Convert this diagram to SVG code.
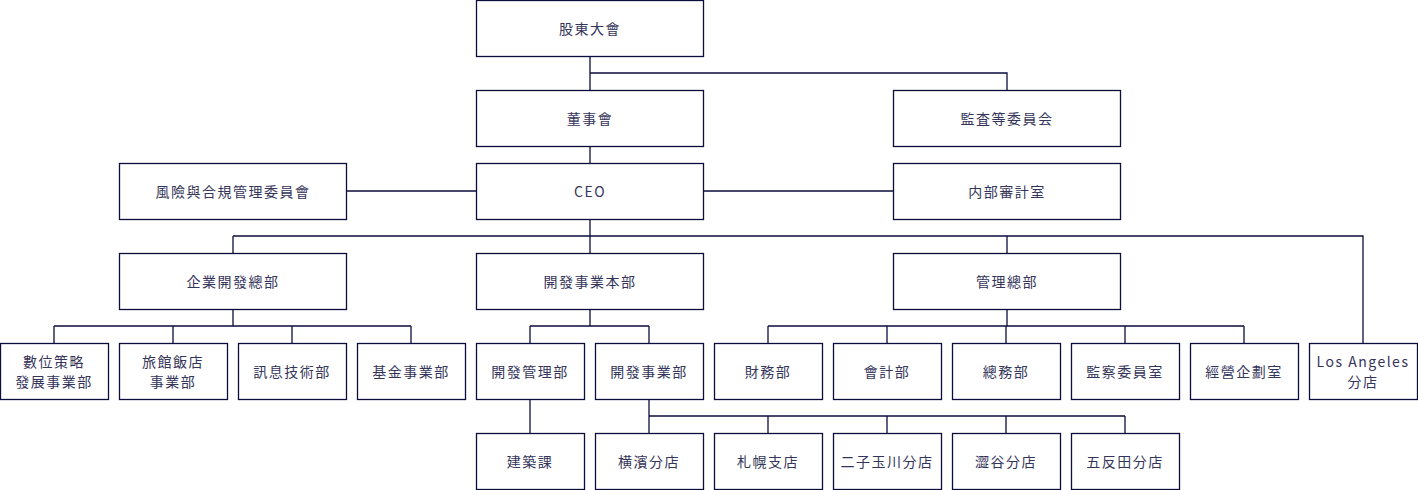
<svg xmlns="http://www.w3.org/2000/svg" width="1418" height="490" viewBox="0 0 1418 490">
<style>
rect{fill:#fff;stroke:#0d0d3d;stroke-width:1.3}
text{font-family:"Noto Sans CJK JP","Noto Sans CJK TC",sans-serif;font-size:14px;fill:#35355a;text-anchor:middle;dominant-baseline:central;letter-spacing:1.5px}
#connectors path{fill:none;stroke:#0d0d3d;stroke-width:1.3}
</style>
<rect x="0" y="0" width="1418" height="490" style="fill:#fff;stroke:none"/>
<g id="connectors">
<path d="M590 56V90M590 73H1007V90"/>
<path d="M590 146V163"/>
<path d="M346 191H476M703 191H893"/>
<path d="M590 219V253M233 236H1363V343M233 236V253M1007 236V253"/>
<path d="M233 309V326M54 326H411M54 326V343M173 326V343M292 326V343M411 326V343"/>
<path d="M590 309V326M530 326H649M530 326V343M649 326V343"/>
<path d="M1007 309V326M768 326H1244M768 326V343M887 326V343M1006 326V343M1125 326V343M1244 326V343"/>
<path d="M530 399V433"/>
<path d="M649 399V433M649 416H1125M768 416V433M887 416V433M1006 416V433M1125 416V433"/>
</g>
<g id="n-shareholders"><rect x="476.5" y="0.5" width="227" height="56"/><text x="590" y="28">股東大會</text></g>
<g id="n-board"><rect x="476.5" y="90.5" width="227" height="56"/><text x="590" y="118">董事會</text></g>
<g id="n-audit-committee"><rect x="893.5" y="90.5" width="227" height="56"/><text x="1007" y="118">監査等委員会</text></g>
<g id="n-risk"><rect x="119.5" y="163.5" width="227" height="56"/><text x="233" y="191">風險與合規管理委員會</text></g>
<g id="n-ceo"><rect x="476.5" y="163.5" width="227" height="56"/><text x="590" y="191">CEO</text></g>
<g id="n-internal-audit"><rect x="893.5" y="163.5" width="227" height="56"/><text x="1007" y="191">内部審計室</text></g>
<g id="n-corp-dev"><rect x="119.5" y="253.5" width="227" height="56"/><text x="233" y="281">企業開發總部</text></g>
<g id="n-dev-hq"><rect x="476.5" y="253.5" width="227" height="56"/><text x="590" y="281">開發事業本部</text></g>
<g id="n-admin"><rect x="893.5" y="253.5" width="227" height="56"/><text x="1007" y="281">管理總部</text></g>
<g id="n-digital"><rect x="0.5" y="343.5" width="108" height="56"/><text x="54" y="361">數位策略</text><text x="54" y="381">發展事業部</text></g>
<g id="n-hotel"><rect x="119.5" y="343.5" width="108" height="56"/><text x="173" y="361">旅館飯店</text><text x="173" y="381">事業部</text></g>
<g id="n-it"><rect x="238.5" y="343.5" width="108" height="56"/><text x="292" y="371">訊息技術部</text></g>
<g id="n-fund"><rect x="357.5" y="343.5" width="108" height="56"/><text x="411" y="371">基金事業部</text></g>
<g id="n-dev-mgmt"><rect x="476.5" y="343.5" width="108" height="56"/><text x="530" y="371">開發管理部</text></g>
<g id="n-dev-biz"><rect x="595.5" y="343.5" width="108" height="56"/><text x="649" y="371">開發事業部</text></g>
<g id="n-finance"><rect x="714.5" y="343.5" width="108" height="56"/><text x="768" y="371">財務部</text></g>
<g id="n-accounting"><rect x="833.5" y="343.5" width="108" height="56"/><text x="887" y="371">會計部</text></g>
<g id="n-general"><rect x="952.5" y="343.5" width="108" height="56"/><text x="1006" y="371">總務部</text></g>
<g id="n-inspection"><rect x="1071.5" y="343.5" width="108" height="56"/><text x="1125" y="371">監察委員室</text></g>
<g id="n-planning"><rect x="1190.5" y="343.5" width="108" height="56"/><text x="1244" y="371">經營企劃室</text></g>
<g id="n-la"><rect x="1309.5" y="343.5" width="108" height="56"/><text x="1363" y="361">Los Angeles</text><text x="1363" y="381">分店</text></g>
<g id="n-architecture"><rect x="476.5" y="433.5" width="108" height="56"/><text x="530" y="461">建築課</text></g>
<g id="n-yokohama"><rect x="595.5" y="433.5" width="108" height="56"/><text x="649" y="461">横濱分店</text></g>
<g id="n-sapporo"><rect x="714.5" y="433.5" width="108" height="56"/><text x="768" y="461">札幌支店</text></g>
<g id="n-futako"><rect x="833.5" y="433.5" width="108" height="56"/><text x="887" y="461">二子玉川分店</text></g>
<g id="n-shibuya"><rect x="952.5" y="433.5" width="108" height="56"/><text x="1006" y="461">澀谷分店</text></g>
<g id="n-gotanda"><rect x="1071.5" y="433.5" width="108" height="56"/><text x="1125" y="461">五反田分店</text></g>
</svg>
